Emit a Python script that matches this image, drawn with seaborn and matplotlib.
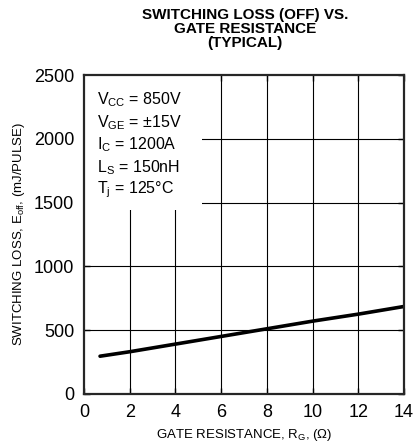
import matplotlib
matplotlib.use("Agg")
import matplotlib.pyplot as plt
import pandas as pd
import seaborn as sns
from matplotlib.patches import Rectangle

# Eoff vs gate resistance (typical)
rg_ohm = [0.7, 2, 4, 6, 8, 10, 12, 14]
eoff_mj = [295, 330, 390, 450, 510, 570, 625, 685]

x_ticks = [0, 2, 4, 6, 8, 10, 12, 14]
y_ticks = [0, 500, 1000, 1500, 2000, 2500]

conditions = [
    r"V$_{\mathrm{CC}}$ = 850V",
    r"V$_{\mathrm{GE}}$ = ±15V",
    r"I$_{\mathrm{C}}$ = 1200A",
    r"L$_{\mathrm{S}}$ = 150nH",
    r"T$_{\mathrm{j}}$ = 125°C",
]

sns.set_style("ticks")
plt.rcParams["font.family"] = ["Liberation Sans", "DejaVu Sans"]
plt.rcParams["mathtext.fontset"] = "custom"
plt.rcParams["mathtext.rm"] = "Liberation Sans"
plt.rcParams["mathtext.it"] = "Liberation Sans"
plt.rcParams["text.color"] = "black"
plt.rcParams["axes.labelcolor"] = "black"
plt.rcParams["xtick.color"] = "black"
plt.rcParams["ytick.color"] = "black"

df = pd.DataFrame({"rg": rg_ohm, "eoff": eoff_mj})

fig = plt.figure(figsize=(4.14, 4.47), dpi=100)
ax = fig.add_axes([0.203, 0.119, 0.773, 0.713])

# grid drawn by hand so the condition box can hide part of it
for xv in x_ticks[1:-1]:
    ax.axvline(xv, color="black", lw=0.8, zorder=1)
for yv in y_ticks[1:-1]:
    ax.axhline(yv, color="black", lw=0.8, zorder=1)

ax.add_patch(Rectangle((0, 1440), 5.15, 1060, facecolor="white",
                       edgecolor="none", zorder=1.5))

sns.lineplot(data=df, x="rg", y="eoff", color="black", lw=2.6, ax=ax, zorder=3)

ax.set_xlim(0, 14)
ax.set_ylim(0, 2500)
ax.set_xticks(x_ticks)
ax.set_yticks(y_ticks)
ax.tick_params(direction="in", top=True, right=True, length=4, width=1,
               labelsize=13, pad=7)
for s in ax.spines.values():
    s.set_linewidth(1.6)
    s.set_zorder(4)

ax.set_xlabel(r"GATE RESISTANCE, R$_{\mathrm{G}}$, ($\Omega$)", fontsize=9.5, labelpad=5)
ax.set_ylabel(r"SWITCHING LOSS, E$_{\mathrm{off}}$, (mJ/PULSE)", fontsize=9.5, labelpad=5)

for i, t in enumerate(conditions):
    ax.text(0.04, 0.922 - i * 0.0705, t, transform=ax.transAxes, fontsize=11.5,
            va="center", ha="left", zorder=5)

fig.text(0.592, 0.935, "SWITCHING LOSS (OFF) VS.\nGATE RESISTANCE\n(TYPICAL)",
         ha="center", va="center", fontsize=11, fontweight="bold", linespacing=1.0)

fig.savefig("out.png", dpi=100)
